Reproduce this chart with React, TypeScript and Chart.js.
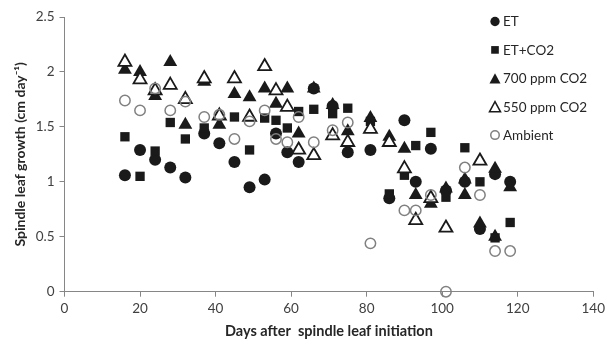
import React, { useEffect, useRef } from 'react';
import { Chart, registerables } from 'chart.js';

Chart.register(...registerables);

// ---- Data ----
const xTickValues = [0, 20, 40, 60, 80, 100, 120, 140];
const yTickValues = [0, 0.5, 1, 1.5, 2, 2.5];

const seriesLabels = ['ET', 'ET+CO2', '700 ppm CO2', '550 ppm CO2', 'Ambient'];

const etDays = [16, 20, 24, 28, 32, 37, 41, 45, 49, 53, 56, 59, 62, 66, 71, 75, 81, 86, 90, 93, 97, 101, 106, 110, 114, 118];
const etValues = [1.06, 1.29, 1.20, 1.13, 1.04, 1.44, 1.35, 1.18, 0.95, 1.02, 1.44, 1.27, 1.18, 1.85, 1.69, 1.27, 1.29, 0.85, 1.56, 1.00, 1.30, 0.92, 1.00, 0.57, 1.07, 1.00];

const etco2Days = [16, 20, 24, 28, 32, 37, 45, 49, 53, 56, 59, 62, 66, 71, 75, 81, 86, 90, 93, 97, 101, 106, 110, 114, 118];
const etco2Values = [1.41, 1.05, 1.28, 1.54, 1.39, 1.49, 1.59, 1.29, 1.58, 1.56, 1.49, 1.64, 1.66, 1.62, 1.67, 1.55, 0.89, 1.06, 1.33, 1.45, 0.86, 1.31, 1.00, 0.49, 0.63];

const ppm700Days = [16, 20, 24, 28, 32, 37, 41, 45, 49, 53, 56, 59, 62, 66, 71, 75, 81, 86, 90, 93, 97, 101, 106, 106, 110, 114, 114, 118];
const ppm700Values = [2.02, 2.00, 1.78, 2.09, 1.52, 1.91, 1.52, 1.80, 1.77, 1.85, 1.71, 1.85, 1.44, 1.85, 1.70, 1.46, 1.58, 1.41, 1.30, 0.88, 0.80, 0.94, 1.02, 0.88, 0.62, 1.12, 0.50, 0.95];

const ppm550Days = [16, 20, 24, 28, 32, 37, 41, 45, 49, 53, 56, 59, 62, 66, 71, 75, 81, 86, 90, 93, 97, 101, 110];
const ppm550Values = [2.09, 1.93, 1.83, 1.88, 1.75, 1.94, 1.60, 1.94, 1.59, 2.05, 1.83, 1.68, 1.29, 1.24, 1.42, 1.36, 1.48, 1.36, 1.12, 0.65, 0.85, 0.58, 1.19];

const ambientDays = [16, 20, 24, 28, 32, 37, 41, 45, 49, 53, 56, 59, 62, 66, 71, 75, 81, 90, 93, 97, 101, 106, 110, 114, 118];
const ambientValues = [1.74, 1.65, 1.85, 1.65, 1.73, 1.59, 1.61, 1.39, 1.55, 1.65, 1.39, 1.36, 1.59, 1.36, 1.47, 1.54, 0.44, 0.74, 0.74, 0.88, 0.00, 1.13, 0.88, 0.37, 0.37];

const xTitle = 'Days after  spindle leaf initiation';
const yTitle = 'Spindle leaf growth (cm day\u207B\u00B9)';

// ---- Styling ----
const FONT = 'Lato, "Open Sans", "Liberation Sans", sans-serif';
const DARK = '#1a1a1a';
const GREY = '#808080';
const AXIS = '#868686';

const toPoints = (xs: number[], ys: number[]) => xs.map((x, i) => ({ x, y: ys[i] }));

type Marker = 'fcircle' | 'square' | 'ftri' | 'otri' | 'ocircle';
const markers: Marker[] = ['fcircle', 'square', 'ftri', 'otri', 'ocircle'];

function drawMarker(ctx: CanvasRenderingContext2D, kind: Marker, x: number, y: number, s: number) {
  ctx.save();
  ctx.beginPath();
  if (kind === 'fcircle') {
    ctx.arc(x, y, 5.5 * s, 0, Math.PI * 2);
    ctx.fillStyle = DARK;
    ctx.fill();
  } else if (kind === 'square') {
    const h = 4.5 * s;
    ctx.rect(x - h, y - h, 2 * h, 2 * h);
    ctx.fillStyle = DARK;
    ctx.fill();
  } else if (kind === 'ftri' || kind === 'otri') {
    const w = 6.5 * s;
    const hh = 6 * s;
    ctx.moveTo(x, y - hh);
    ctx.lineTo(x + w, y + hh);
    ctx.lineTo(x - w, y + hh);
    ctx.closePath();
    if (kind === 'ftri') {
      ctx.fillStyle = DARK;
      ctx.fill();
    } else {
      ctx.fillStyle = '#ffffff';
      ctx.fill();
      ctx.lineWidth = 1.5;
      ctx.strokeStyle = DARK;
      ctx.stroke();
    }
  } else {
    ctx.arc(x, y, 5 * s, 0, Math.PI * 2);
    ctx.fillStyle = '#ffffff';
    ctx.fill();
    ctx.lineWidth = 1.5;
    ctx.strokeStyle = GREY;
    ctx.stroke();
  }
  ctx.restore();
}

const legendPlugin = {
  id: 'customLegend',
  afterDraw(chart: any) {
    const ctx: CanvasRenderingContext2D = chart.ctx;
    const x0 = 495;
    const y0 = 21.5;
    const step = 28.4;
    ctx.save();
    ctx.font = `13.5px ${FONT}`;
    ctx.textBaseline = 'middle';
    ctx.textAlign = 'left';
    seriesLabels.forEach((label, i) => {
      const y = y0 + i * step;
      drawMarker(ctx, markers[i], x0, y, 0.85);
      ctx.fillStyle = '#262626';
      ctx.fillText(label, x0 + 8, y + 0.5);
    });
    ctx.restore();
  },
};

export default function App() {
  const canvasRef = useRef<HTMLCanvasElement | null>(null);

  useEffect(() => {
    document.body.style.margin = '0';
    const canvas = canvasRef.current;
    if (!canvas) return;

    const common = { showLine: false, clip: false as any };

    const chart = new Chart(canvas, {
      type: 'scatter',
      data: {
        datasets: [
          {
            ...common,
            label: seriesLabels[0],
            data: toPoints(etDays, etValues),
            pointStyle: 'circle',
            pointRadius: 6,
            pointBackgroundColor: DARK,
            pointBorderColor: DARK,
            pointBorderWidth: 0,
            order: 5,
          },
          {
            ...common,
            label: seriesLabels[1],
            data: toPoints(etco2Days, etco2Values),
            pointStyle: 'rect',
            pointRadius: 6.6,
            pointBackgroundColor: DARK,
            pointBorderColor: DARK,
            pointBorderWidth: 0,
            order: 4,
          },
          {
            ...common,
            label: seriesLabels[2],
            data: toPoints(ppm700Days, ppm700Values),
            pointStyle: 'triangle',
            pointRadius: 8,
            pointBackgroundColor: DARK,
            pointBorderColor: DARK,
            pointBorderWidth: 0,
            order: 3,
          },
          {
            ...common,
            label: seriesLabels[3],
            data: toPoints(ppm550Days, ppm550Values),
            pointStyle: 'triangle',
            pointRadius: 7.5,
            pointBackgroundColor: '#ffffff',
            pointBorderColor: DARK,
            pointBorderWidth: 1.8,
            order: 2,
          },
          {
            ...common,
            label: seriesLabels[4],
            data: toPoints(ambientDays, ambientValues),
            pointStyle: 'circle',
            pointRadius: 5.2,
            pointBackgroundColor: 'rgba(255,255,255,0)',
            pointBorderColor: GREY,
            pointBorderWidth: 1.5,
            order: 1,
          },
        ],
      },
      options: {
        responsive: false,
        animation: false,
        devicePixelRatio: 1,
        layout: { padding: { top: 17, right: 12, left: 0, bottom: 0 } },
        plugins: {
          legend: { display: false },
          tooltip: { enabled: false },
        },
        scales: {
          x: {
            type: 'linear',
            min: 0,
            max: 140,
            afterBuildTicks: (scale: any) => {
              scale.ticks = xTickValues.map((v) => ({ value: v }));
            },
            afterFit: (scale: any) => {
              scale.height = 49.3;
            },
            ticks: {
              font: { family: FONT, size: 13.5 },
              color: '#404040',
              padding: 4,
              maxRotation: 0,
              callback: (v: any) => String(v),
            },
            grid: {
              display: true,
              drawOnChartArea: false,
              drawTicks: true,
              tickLength: 5,
              color: AXIS,
            },
            border: { display: true, color: AXIS, width: 1 },
            title: {
              display: true,
              text: xTitle,
              font: { family: FONT, size: 14.5, weight: 'bold' },
              color: '#262626',
              padding: { top: 0, bottom: 1 },
            },
          },
          y: {
            type: 'linear',
            min: 0,
            max: 2.5,
            afterBuildTicks: (scale: any) => {
              scale.ticks = yTickValues.map((v) => ({ value: v }));
            },
            afterFit: (scale: any) => {
              scale.width = 64.5;
            },
            ticks: {
              font: { family: FONT, size: 13.5 },
              color: '#404040',
              padding: 5,
              callback: (v: any) => String(v),
            },
            grid: {
              display: true,
              drawOnChartArea: false,
              drawTicks: true,
              tickLength: 5,
              color: AXIS,
            },
            border: { display: true, color: AXIS, width: 1 },
            title: {
              display: true,
              text: yTitle,
              font: { family: FONT, size: 14, weight: 'bold' },
              color: '#262626',
              padding: { top: 12, bottom: 0 },
            },
          },
        },
      } as any,
      plugins: [legendPlugin],
    });

    return () => {
      chart.destroy();
    };
  }, []);

  return (
    <div style={{ width: 609, height: 341, background: '#ffffff' }}>
      <canvas ref={canvasRef} width={609} height={341} style={{ display: 'block' }} />
    </div>
  );
}
